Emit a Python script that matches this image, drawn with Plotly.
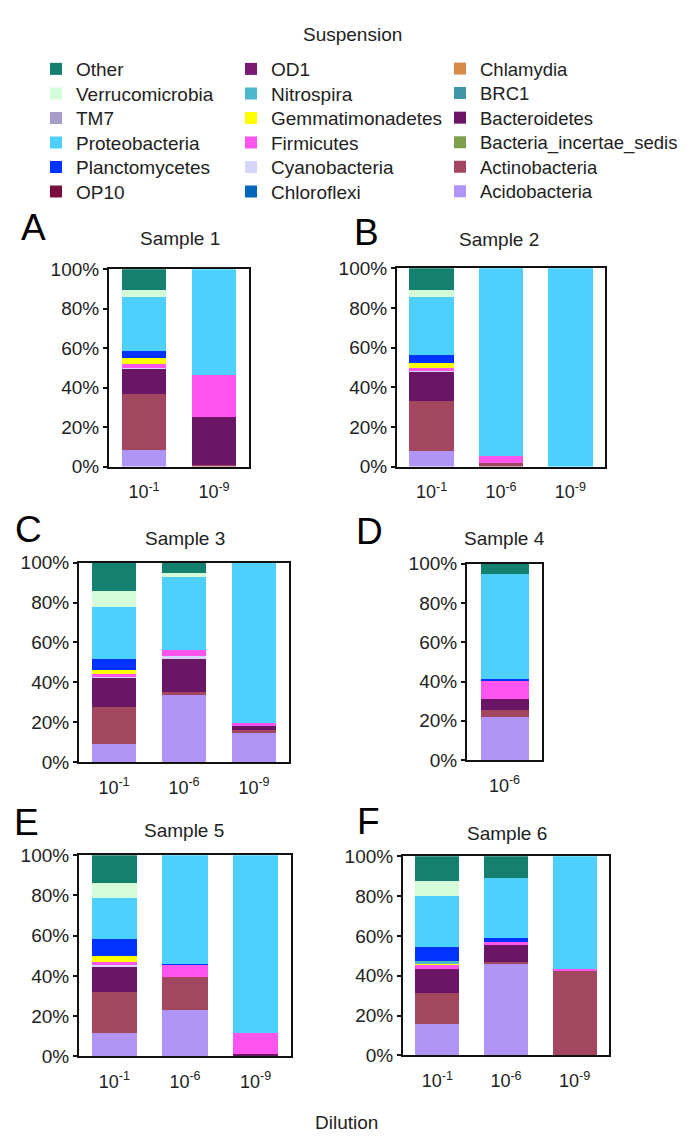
import plotly.graph_objects as go

# ---------------- data ----------------
taxa = ["Acidobacteria", "Actinobacteria", "Bacteria_incertae_sedis", "Bacteroidetes",
        "BRC1", "Chlamydia", "Chloroflexi", "Cyanobacteria", "Firmicutes",
        "Gemmatimonadetes", "Nitrospira", "OD1", "OP10", "Planctomycetes",
        "Proteobacteria", "TM7", "Verrucomicrobia", "Other"]

taxon_colors = ["#b095f7", "#a34660", "#7f9e50", "#6b1566",
                "#3e96a6", "#d98c4a", "#0066bb", "#d6d6fc", "#ff55ee",
                "#ffff00", "#50b8cc", "#7a1a74", "#7a1040", "#0033ff",
                "#4dd0fd", "#a89cc8", "#d4fcd8", "#14806f"]

legend_col1 = ["Other", "Verrucomicrobia", "TM7", "Proteobacteria", "Planctomycetes", "OP10"]
legend_col2 = ["OD1", "Nitrospira", "Gemmatimonadetes", "Firmicutes", "Cyanobacteria", "Chloroflexi"]
legend_col3 = ["Chlamydia", "BRC1", "Bacteroidetes", "Bacteria_incertae_sedis", "Actinobacteria", "Acidobacteria"]

sample_titles = ["Sample 1", "Sample 2", "Sample 3", "Sample 4", "Sample 5", "Sample 6"]
panel_letters = ["A", "B", "C", "D", "E", "F"]
y_ticks = [0, 20, 40, 60, 80, 100]
y_ticklabels = ["0%", "20%", "40%", "60%", "80%", "100%"]

s1_dilutions = ["10<sup>-1</sup>", "10<sup>-9</sup>"]
s1_values = {
    "Acidobacteria": [8.6, 0.0], "Actinobacteria": [28.2, 1.0], "Bacteroidetes": [12.8, 24.2],
    "Cyanobacteria": [0.6, 0.0], "Firmicutes": [1.7, 21.1], "Gemmatimonadetes": [3.2, 0.0],
    "Planctomycetes": [3.6, 0.0], "Proteobacteria": [27.5, 53.7], "Verrucomicrobia": [3.4, 0.0],
    "Other": [10.4, 0.0],
}

s2_dilutions = ["10<sup>-1</sup>", "10<sup>-6</sup>", "10<sup>-9</sup>"]
s2_values = {
    "Acidobacteria": [7.9, 0, 0], "Actinobacteria": [25.4, 1.6, 0], "Bacteroidetes": [14.6, 0, 0],
    "Cyanobacteria": [0.4, 0, 0], "Firmicutes": [1.3, 3.7, 0], "Gemmatimonadetes": [2.7, 0, 0],
    "Planctomycetes": [3.8, 0, 0], "Proteobacteria": [29.5, 94.7, 100.0], "Verrucomicrobia": [3.5, 0, 0],
    "Other": [10.9, 0, 0],
}

s3_dilutions = ["10<sup>-1</sup>", "10<sup>-6</sup>", "10<sup>-9</sup>"]
s3_values = {
    "Acidobacteria": [9.2, 33.8, 14.8], "Actinobacteria": [18.3, 1.3, 1.4], "Bacteroidetes": [14.8, 16.4, 1.7],
    "Cyanobacteria": [0.8, 1.6, 0], "Firmicutes": [1.0, 3.0, 1.6], "Gemmatimonadetes": [2.0, 0, 0],
    "Planctomycetes": [5.7, 0, 0], "Proteobacteria": [26.2, 36.5, 80.5], "Verrucomicrobia": [7.7, 2.2, 0],
    "Other": [14.3, 5.2, 0],
}

s4_dilutions = ["10<sup>-6</sup>"]
s4_values = {
    "Acidobacteria": [22.0], "Actinobacteria": [3.7], "Bacteroidetes": [5.5], "Firmicutes": [9.5],
    "Planctomycetes": [0.8], "Proteobacteria": [53.3], "Other": [5.2],
}

s5_dilutions = ["10<sup>-1</sup>", "10<sup>-6</sup>", "10<sup>-9</sup>"]
s5_values = {
    "Acidobacteria": [11.7, 22.9, 0], "Actinobacteria": [20.1, 16.4, 0], "Bacteroidetes": [12.7, 0, 1.1],
    "Cyanobacteria": [0.8, 0, 0], "Firmicutes": [1.5, 6.3, 10.8], "Gemmatimonadetes": [2.9, 0, 0],
    "Planctomycetes": [8.9, 0.5, 0], "Proteobacteria": [20.0, 53.9, 88.1], "Verrucomicrobia": [7.8, 0, 0],
    "Other": [13.6, 0, 0],
}

s6_dilutions = ["10<sup>-1</sup>", "10<sup>-6</sup>", "10<sup>-9</sup>"]
s6_values = {
    "Acidobacteria": [15.9, 45.8, 0], "Actinobacteria": [15.6, 1.0, 42.2], "Bacteroidetes": [11.8, 8.5, 0],
    "Firmicutes": [2.0, 1.7, 1.0], "Gemmatimonadetes": [0.4, 0, 0], "Nitrospira": [1.8, 0, 0],
    "Planctomycetes": [6.9, 1.8, 0], "Proteobacteria": [25.4, 30.5, 56.8], "Verrucomicrobia": [7.6, 0, 0],
    "Other": [12.6, 10.7, 0],
}

samples = [(s1_dilutions, s1_values), (s2_dilutions, s2_values), (s3_dilutions, s3_values),
           (s4_dilutions, s4_values), (s5_dilutions, s5_values), (s6_dilutions, s6_values)]

# ---------------- layout geometry (pixels) ----------------
W, H = 692, 1137
FONT = "Liberation Sans, Arial, sans-serif"
TXT = "#222"
# frame boxes: left, right, top, bottom
frames = [(101, 241, 256, 457), (389, 597, 255, 457), (71, 281, 555, 758),
          (459, 534, 556, 756), (71, 283, 853, 1058), (395, 601, 854, 1057)]
title_pos = [(172, 225), (491, 226), (177, 530), (496, 530), (176, 828), (499, 831)]
letter_pos = [(25, 213), (358, 219), (20, 521), (361, 523), (18, 820), (360, 819)]
legend_col_x = [28, 223, 432]      # left edge of each legend column
legend_col_font = [19, 19, 18.5]
legend_row_y = [52, 77, 102, 127, 152, 177]

def px_x(v):
    return v / W

def px_y(v):
    return 1 - v / H

fig = go.Figure()

legend_of = {}
legend_keys = []
for ci, col in enumerate((legend_col1, legend_col2, legend_col3)):
    for ri, t in enumerate(col):
        k = len(legend_keys)
        key = "legend" if k == 0 else f"legend{k+1}"
        legend_keys.append((key, ci, ri))
        legend_of[t] = key

for p, (dils, vals) in enumerate(samples):
    xa = "x" if p == 0 else f"x{p+1}"
    ya = "y" if p == 0 else f"y{p+1}"
    for t, c in zip(taxa, taxon_colors):
        y = vals.get(t, [0.0] * len(dils))
        fig.add_trace(go.Bar(
            x=dils, y=y, name=t, marker=dict(color=c, line=dict(width=0)),
            width=0.64, xaxis=xa, yaxis=ya, legend=legend_of[t],
            showlegend=(p == 0), legendgroup=t, hoverinfo="name+y",
        ))

layout = dict(
    width=W, height=H, margin=dict(l=0, r=0, t=0, b=0),
    paper_bgcolor="white", plot_bgcolor="white", barmode="stack",
    font=dict(family=FONT, size=19, color=TXT),
    annotations=[],
)

for p, (dils, vals) in enumerate(samples):
    l, r, t, b = frames[p]
    xk = "xaxis" if p == 0 else f"xaxis{p+1}"
    yk = "yaxis" if p == 0 else f"yaxis{p+1}"
    xa = "x" if p == 0 else f"x{p+1}"
    ya = "y" if p == 0 else f"y{p+1}"
    layout[xk] = dict(
        domain=[px_x(l), px_x(r)], anchor=ya, type="category",
        range=[-0.5, len(dils) - 0.5], showline=True, mirror=True,
        linecolor="#111", linewidth=2, ticks="", showgrid=False,
        tickfont=dict(size=18, color=TXT), ticklabelstandoff=8, fixedrange=True,
    )
    layout[yk] = dict(
        domain=[px_y(b), px_y(t)], anchor=xa, range=[0, 100],
        tickmode="array", tickvals=y_ticks, ticktext=y_ticklabels,
        showline=True, mirror=True,
        linecolor="#111", linewidth=2, ticks="outside", ticklen=4, tickwidth=1.5,
        tickcolor="#111", showgrid=False, zeroline=False,
        tickfont=dict(size=19, color=TXT), fixedrange=True,
    )
    tx, ty = title_pos[p]
    layout["annotations"].append(dict(
        text=sample_titles[p], x=px_x(tx), y=px_y(ty), xref="paper", yref="paper",
        xanchor="center", yanchor="middle", showarrow=False, font=dict(size=19, color=TXT)))
    lx, ly = letter_pos[p]
    layout["annotations"].append(dict(
        text=panel_letters[p], x=px_x(lx), y=px_y(ly), xref="paper", yref="paper",
        xanchor="center", yanchor="middle", showarrow=False, font=dict(size=37, color="#000")))

layout["annotations"].append(dict(
    text="Suspension", x=px_x(344), y=px_y(17), xref="paper", yref="paper",
    xanchor="center", yanchor="middle", showarrow=False, font=dict(size=19, color=TXT)))
layout["annotations"].append(dict(
    text="Dilution", x=px_x(338), y=px_y(1125), xref="paper", yref="paper",
    xanchor="center", yanchor="middle", showarrow=False, font=dict(size=19, color=TXT)))

for key, ci, ri in legend_keys:
    layout[key] = dict(
        x=px_x(legend_col_x[ci]), y=px_y(legend_row_y[ri]), xanchor="left", yanchor="middle",
        traceorder="normal", font=dict(size=legend_col_font[ci], color=TXT),
        bgcolor="rgba(0,0,0,0)", itemwidth=30, orientation="v",
    )

fig.update_layout(**layout)
fig.write_html("out.html")
